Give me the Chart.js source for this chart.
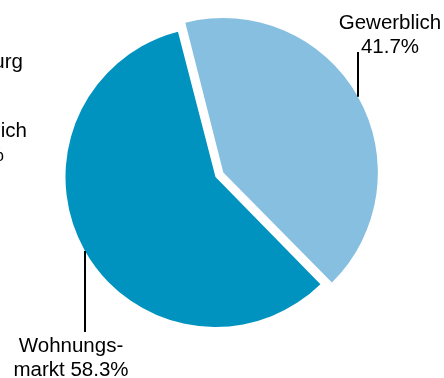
<!DOCTYPE html>
<html>
<head>
<meta charset="utf-8">
<script src="https://cdn.jsdelivr.net/npm/chart.js@4"></script>
<style>
  html, body { margin: 0; padding: 0; background: #fff; }
  canvas { display: block; }
</style>
</head>
<body>
<canvas id="pieChart" width="444" height="378"></canvas>
<script>
const categories = ['Gewerblich', 'Wohnungsmarkt'];
const shares = [41.7, 58.3];
// how each slice label is broken over two lines (value goes after the second part)
const labelBreaks = [['Gewerblich', ''], ['Wohnungs-', 'markt ']];
const sliceColors = ['#86bfe0', '#0093bf'];
// ends of neighbouring labels that run off the left edge
const edgeTexts = ['urg', 'ich', '%'];

const FONT = '20.5px "Liberation Sans", Arial, sans-serif';

const labelPos = [
  { lineX: 358, lineEnd: 52, above: true, textX: 390, baseline: 29 },
  { lineX: 85, lineEnd: 332, above: false, textX: 71, baseline: 352 }
];
const edgePos = [
  { x: 23, y: 68 },
  { x: 27, y: 137 },
  { x: 4, y: 161 }
];

const sliceLabels = {
  id: 'sliceLabels',
  afterDatasetsDraw(chart) {
    const ctx = chart.ctx;
    const arcs = chart.getDatasetMeta(0).data;
    ctx.save();
    ctx.font = FONT;
    ctx.fillStyle = '#000';
    ctx.strokeStyle = '#000';
    ctx.lineWidth = 2;
    ctx.textAlign = 'center';
    ctx.textBaseline = 'alphabetic';

    arcs.forEach((arc, i) => {
      const p = labelPos[i];
      // where the leader meets the slice edge (pulled-out slices are shifted and grown)
      const off = (arc.options.offset || 0) / 4;
      const mid = (arc.startAngle + arc.endAngle) / 2;
      const fix = 1 - Math.sin(Math.min(Math.PI, arc.circumference));
      const cx = arc.x + Math.cos(mid) * off;
      const cy = arc.y + Math.sin(mid) * off;
      const r = arc.outerRadius + off * fix;
      const dy = Math.sqrt(Math.max(r * r - (p.lineX - cx) ** 2, 0));
      const edgeY = p.above ? cy - dy : cy + dy;
      ctx.beginPath();
      ctx.moveTo(p.lineX, edgeY);
      ctx.lineTo(p.lineX, p.lineEnd);
      ctx.stroke();

      const lines = [labelBreaks[i][0], labelBreaks[i][1] + shares[i].toFixed(1) + '%'];
      lines.forEach((t, k) => ctx.fillText(t, p.textX, p.baseline + k * 23.5));
    });

    ctx.textAlign = 'right';
    edgeTexts.forEach((t, k) => ctx.fillText(t, edgePos[k].x, edgePos[k].y));
    ctx.restore();
  }
};

new Chart(document.getElementById('pieChart'), {
  type: 'pie',
  data: {
    labels: categories,
    datasets: [{
      data: shares,
      backgroundColor: sliceColors,
      borderWidth: 0,
      offset: [36, 0]
    }]
  },
  options: {
    responsive: false,
    animation: false,
    rotation: -14.5,
    radius: 150,
    layout: { padding: { left: 0, right: 13, top: 0, bottom: 24 } },
    plugins: {
      legend: { display: false },
      tooltip: { enabled: false }
    },
    events: []
  },
  plugins: [sliceLabels]
});
</script>
</body>
</html>
